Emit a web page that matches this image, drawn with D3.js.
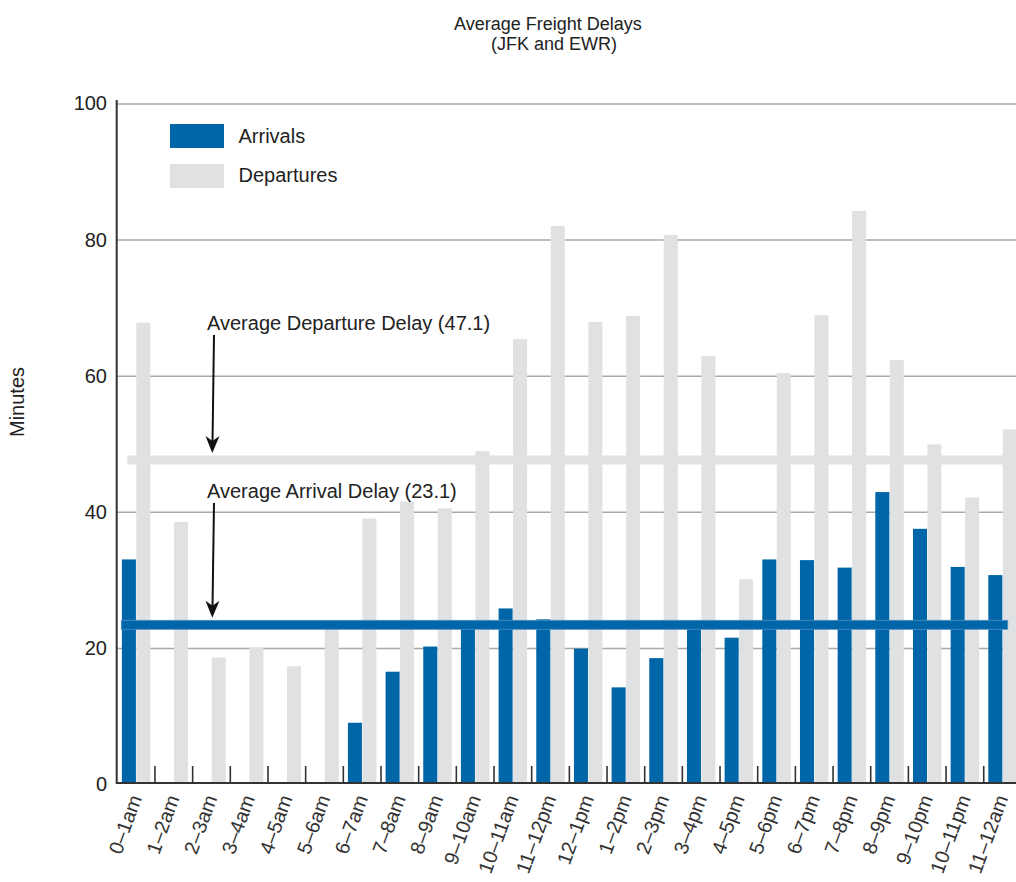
<!DOCTYPE html>
<html>
<head>
<meta charset="utf-8">
<script src="https://cdn.jsdelivr.net/npm/d3@7"></script>
<style>
  html, body { margin: 0; padding: 0; background: #fff; }
  svg { display: block; font-family: "Liberation Sans", Arial, sans-serif; }
</style>
</head>
<body>
<svg id="chart" width="1016" height="882"></svg>
<script>
// ---- data ----
const categories = ["0–1am","1–2am","2–3am","3–4am","4–5am","5–6am","6–7am","7–8am","8–9am","9–10am","10–11am","11–12pm",
                    "12–1pm","1–2pm","2–3pm","3–4pm","4–5pm","5–6pm","6–7pm","7–8pm","8–9pm","9–10pm","10–11pm","11–12am"];
const arrivals   = [33.0,0,0,0,0,0,9.0,16.5,20.2,23.5,25.8,24.2,19.9,14.2,18.5,23.6,21.5,33.0,32.9,31.8,42.9,37.5,31.9,30.7];
const departures = [67.8,38.5,18.6,20.0,17.3,23.0,39.0,41.5,40.5,48.9,65.4,82.0,67.9,68.8,80.7,62.9,30.1,60.4,68.9,84.2,62.3,49.9,42.1,52.1];
const yTicks = [0,20,40,60,80,100];
const avgArrival = 23.1;
const avgDeparture = 47.1;
const seriesNames = ["Arrivals","Departures"];
const titleLines = ["Average Freight Delays","(JFK and EWR)"];
const yLabel = "Minutes";

// ---- styles ----
const BLUE = "#0066a8", GRAY = "#e0e1e3", TEXT = "#222";

const svg = d3.select("#chart");
const x = d3.scaleBand().domain(categories).range([117.3, 1021.4]).paddingInner(0).paddingOuter(0);
const sub = d3.scaleBand().domain(["arr","dep"]).range([0, x.bandwidth()]).paddingOuter(0.317).paddingInner(0.03);
const y = d3.scaleLinear().domain([0, 100]).range([784, 103.5]);

// gridlines
const grid = svg.append("g").attr("transform", "translate(117,0)")
  .call(d3.axisLeft(y).tickValues(yTicks.filter(d => d > 0)).tickSize(-900).tickFormat(""));
grid.select(".domain").remove();
grid.selectAll("line").attr("stroke", "#a9a9a9").attr("stroke-width", 1.5);

// bars
const rows = categories.map((c, i) => ({c, arr: arrivals[i], dep: departures[i]}));
svg.append("g").selectAll("rect").data(rows).join("rect")
  .attr("x", d => x(d.c) + sub("dep")).attr("width", sub.bandwidth())
  .attr("y", d => y(d.dep)).attr("height", d => y(0) - y(d.dep)).attr("fill", GRAY);
svg.append("g").selectAll("rect").data(rows.filter(d => d.arr > 0)).join("rect")
  .attr("x", d => x(d.c) + sub("arr")).attr("width", sub.bandwidth())
  .attr("y", d => y(d.arr)).attr("height", d => y(0) - y(d.arr)).attr("fill", BLUE);

// average lines (slightly raised, as in the original artwork)
const depLineY = y(avgDeparture) - 3.5;
const arrLineY = y(avgArrival) - 2;
svg.append("rect").attr("x", x(categories[0]) + 10).attr("width", x(categories[23]) + 21 - x(categories[0]) - 10)
  .attr("y", depLineY - 4.5).attr("height", 9).attr("fill", GRAY);
svg.append("rect").attr("x", x(categories[0]) + 4).attr("width", x(categories[23]) + 24 - x(categories[0]) - 4)
  .attr("y", arrLineY - 4.5).attr("height", 9).attr("fill", BLUE)
  .attr("stroke", "#4f8fc2").attr("stroke-width", 0.8);

// axes lines
svg.append("line").attr("x1", 116.7).attr("x2", 116.7).attr("y1", 100).attr("y2", 784)
  .attr("stroke", "#333").attr("stroke-width", 2);
svg.append("line").attr("x1", 116).attr("x2", 1016).attr("y1", 783).attr("y2", 783)
  .attr("stroke", "#333").attr("stroke-width", 2);
// boundary ticks
svg.append("g").selectAll("line").data(categories.slice(1)).join("line")
  .attr("x1", d => x(d)).attr("x2", d => x(d)).attr("y1", 766).attr("y2", 783)
  .attr("stroke", "#333").attr("stroke-width", 1.6);

// y axis labels
const yAx = svg.append("g").attr("transform", "translate(117,0)")
  .call(d3.axisLeft(y).tickValues(yTicks).tickSize(0).tickPadding(10));
yAx.select(".domain").remove();
yAx.selectAll("text").attr("font-size", 20).attr("fill", TEXT).attr("font-family", "Liberation Sans, Arial, sans-serif");

// x axis labels
const xAx = svg.append("g").attr("transform", "translate(0,783)")
  .call(d3.axisBottom(x).tickSize(0));
xAx.select(".domain").remove();
xAx.selectAll("text")
  .attr("font-size", 20).attr("fill", "#333").attr("font-family", "Liberation Sans, Arial, sans-serif")
  .attr("text-anchor", "end").attr("dy", null).attr("y", 0)
  .attr("transform", "translate(6,15) rotate(-70)")
  .attr("dominant-baseline", "auto");

// title
svg.append("text").attr("x", 548).attr("y", 30).attr("text-anchor", "middle")
  .attr("font-size", 18).attr("fill", TEXT).text(titleLines[0]);
svg.append("text").attr("x", 554).attr("y", 50).attr("text-anchor", "middle")
  .attr("font-size", 18).attr("fill", TEXT).text(titleLines[1]);

// y label
svg.append("text").attr("transform", "translate(24,402) rotate(-90)").attr("text-anchor", "middle")
  .attr("font-size", 20).attr("fill", TEXT).text(yLabel);

// legend
const legColors = [BLUE, GRAY];
seriesNames.forEach((s, i) => {
  svg.append("rect").attr("x", 170).attr("y", 124 + i * 40).attr("width", 54).attr("height", 24).attr("fill", legColors[i]);
  svg.append("text").attr("x", 238.5).attr("y", 142.5 + i * 39.5).attr("font-size", 20).attr("fill", TEXT).text(s);
});

// annotations
const annots = [
  {text: `Average Departure Delay (${avgDeparture})`, ty: 330, y1: 335, lineY: depLineY},
  {text: `Average Arrival Delay (${avgArrival})`, ty: 497.5, y1: 503, lineY: arrLineY}
];
annots.forEach(a => {
  svg.append("text").attr("x", 207).attr("y", a.ty).attr("font-size", 20).attr("fill", TEXT).text(a.text);
  const tipY = a.lineY - 7;
  svg.append("line").attr("x1", 214).attr("y1", a.y1).attr("x2", 212.5).attr("y2", tipY - 10)
    .attr("stroke", "#111").attr("stroke-width", 2);
  svg.append("path")
    .attr("d", `M${212.3},${tipY} L${205.5},${tipY - 17} L${212.5},${tipY - 12} L${219.5},${tipY - 17} Z`)
    .attr("fill", "#111");
});
</script>
</body>
</html>
